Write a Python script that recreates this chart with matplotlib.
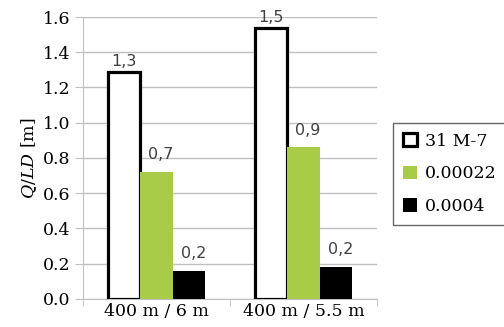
import numpy as np
import matplotlib.pyplot as plt

categories = ["400 m / 6 m", "400 m / 5.5 m"]
series_names = ["31 M-7", "0.00022", "0.0004"]
white_vals = [1.29, 1.54]
green_vals = [0.72, 0.86]
black_vals = [0.16, 0.18]
bar_labels = [["1,3", "1,5"], ["0,7", "0,9"], ["0,2", "0,2"]]
yticks = [0.0, 0.2, 0.4, 0.6, 0.8, 1.0, 1.2, 1.4, 1.6]

plt.rcParams["font.family"] = "DejaVu Serif"
plt.rcParams["mathtext.fontset"] = "dejavuserif"

fig = plt.figure(figsize=(5.04, 3.27), dpi=100)
ax = fig.add_axes([0.165, 0.086, 0.583, 0.862])

x = np.arange(len(categories))
w = 0.22
styles = [
    dict(facecolor="white", edgecolor="black", linewidth=2.3),
    dict(facecolor="#a9cc48", edgecolor="none"),
    dict(facecolor="black", edgecolor="none"),
]
series = [white_vals, green_vals, black_vals]
for i, (vals, st) in enumerate(zip(series, styles)):
    bars = ax.bar(x + (i - 1) * w, vals, w, label=series_names[i], zorder=3, **st)
    for b, lab in zip(bars, bar_labels[i]):
        ax.annotate(lab, (b.get_x() + b.get_width() / 2 + (0.03 if i > 0 else 0), b.get_height()),
                    xytext=(0, 7 if i > 0 else 2), textcoords="offset points",
                    ha="center", va="bottom", fontsize=11.5, color="#404040",
                    family="DejaVu Sans")

ax.set_xlim(-0.5, 1.5)
ax.set_ylim(0, 1.6)
ax.set_yticks(yticks)
ax.set_yticklabels([f"{t:.1f}" for t in yticks], fontsize=12.5)
ax.yaxis.grid(True, color="#c0c0c0", linewidth=1, zorder=0)
ax.set_xticks(x)
ax.set_xticklabels(categories, fontsize=12.5)
ax.tick_params(axis="x", length=0, pad=3)
ax.set_xticks([-0.5, 0.5, 1.5], minor=True)
ax.tick_params(axis="x", which="minor", length=5, color="#c0c0c0")
ax.tick_params(axis="y", length=6, color="#c0c0c0", pad=3)
for s in ["top", "right"]:
    ax.spines[s].set_visible(False)
for s in ["left", "bottom"]:
    ax.spines[s].set_color("#c0c0c0")
ax.set_ylabel(r"$Q/LD$ [m]", fontsize=12.5, labelpad=3)

fig.legend(loc="center left", bbox_to_anchor=(0.78, 0.468), fontsize=12.5,
           frameon=True, fancybox=False, edgecolor="#404040",
           handlelength=0.8, handleheight=0.8, handletextpad=0.5,
           labelspacing=0.9, borderpad=0.55, borderaxespad=0)

fig.savefig("out.png", dpi=100)
